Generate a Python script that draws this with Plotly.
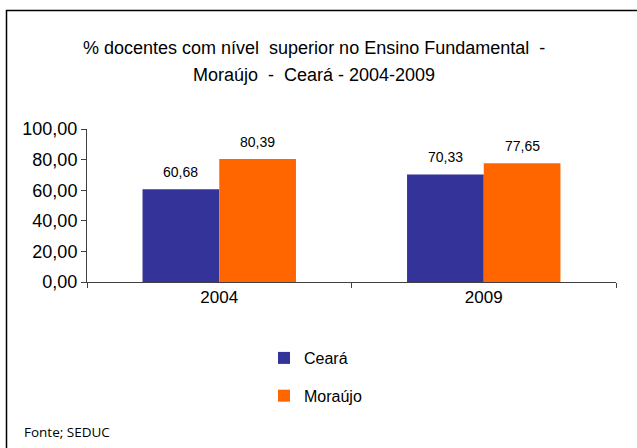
import plotly.graph_objects as go

categories = ["2004", "2009"]
series_names = ["Ceará", "Moraújo"]
ceara = [60.68, 70.33]
moraujo = [80.39, 77.65]
colors = ["#333399", "#FF6600"]
y_ticks = [0, 20, 40, 60, 80, 100]

W, H = 637, 448
L, R, T, B = 87, 21, 129, 166
plot_w = W - L - R
plot_h = H - T - B

def px_x(p):
    return (p - L) / plot_w

def px_y(p):
    return (H - B - p) / plot_h

fig = go.Figure()
for i, (name, vals) in enumerate(zip(series_names, [ceara, moraujo])):
    fig.add_trace(go.Bar(
        x=categories, y=vals, name=name, marker_color=colors[i],
        marker_line_width=0, legendgroup=name,
    ))

# data labels (x given as category index)
bar_px = plot_w / len(categories) * (1 - 0.42) / 2
for i, vals in enumerate([ceara, moraujo]):
    for j, v in enumerate(vals):
        fig.add_annotation(
            x=j, y=v, xref="x", yref="y",
            text=f"{v:.2f}".replace(".", ","),
            showarrow=False, xshift=(i - 0.5) * bar_px, yshift=17.5,
            font=dict(family="Liberation Sans, Arial", size=14, color="#000"),
        )

# title (two lines)
title_lines = ["% docentes com nível  superior no Ensino Fundamental  -",
               "Moraújo  -  Ceará - 2004-2009"]
for line, ypx in zip(title_lines, [48, 75]):
    fig.add_annotation(
        x=px_x(313.5), y=px_y(ypx), xref="paper", yref="paper",
        text=line, showarrow=False, xanchor="center", yanchor="middle",
        font=dict(family="Liberation Sans, Arial", size=18, color="#000"),
    )

# source note
fig.add_annotation(
    x=px_x(22), y=px_y(432), xref="paper", yref="paper",
    text="Fonte; SEDUC", showarrow=False, xanchor="left", yanchor="middle",
    font=dict(family="Open Sans, Noto Sans", size=13.5, color="#000"),
)

# chart frame
fig.add_shape(type="rect", xref="paper", yref="paper",
              x0=px_x(6.5), y0=px_y(470), x1=px_x(700), y1=px_y(10.5),
              line=dict(color="#000", width=1.5), fillcolor="rgba(0,0,0,0)")

fig.update_layout(
    width=W, height=H,
    margin=dict(l=L, r=R, t=T, b=B, pad=0, autoexpand=False),
    paper_bgcolor="white", plot_bgcolor="white",
    barmode="group", bargap=0.42, bargroupgap=0,
    separators=",.",
    showlegend=True,
    legend=dict(
        x=px_x(289 - 25), y=px_y(341), xanchor="left", yanchor="top",
        orientation="v", tracegroupgap=14,
        font=dict(family="Liberation Sans, Arial", size=16, color="#000"),
        bgcolor="rgba(0,0,0,0)",
    ),
    xaxis=dict(
        type="category", range=[-0.5, len(categories) - 0.5],
        showline=True, linecolor="#404040", linewidth=1,
        ticks="outside", tickson="boundaries", ticklen=5, tickcolor="#404040",
        showgrid=False, tickangle=0,
        tickfont=dict(family="Liberation Sans, Arial", size=17, color="#000"),
    ),
    yaxis=dict(
        range=[0, 100], tickvals=y_ticks, tickformat=".2f",
        showline=True, linecolor="#404040", linewidth=1,
        ticks="outside", ticklen=5, tickcolor="#404040",
        showgrid=False, zeroline=False,
        tickfont=dict(family="Liberation Sans, Arial", size=18, color="#000"),
    ),
)

fig.write_html("out.html", config={"displayModeBar": False},
               post_script="document.body.style.margin='0';")
